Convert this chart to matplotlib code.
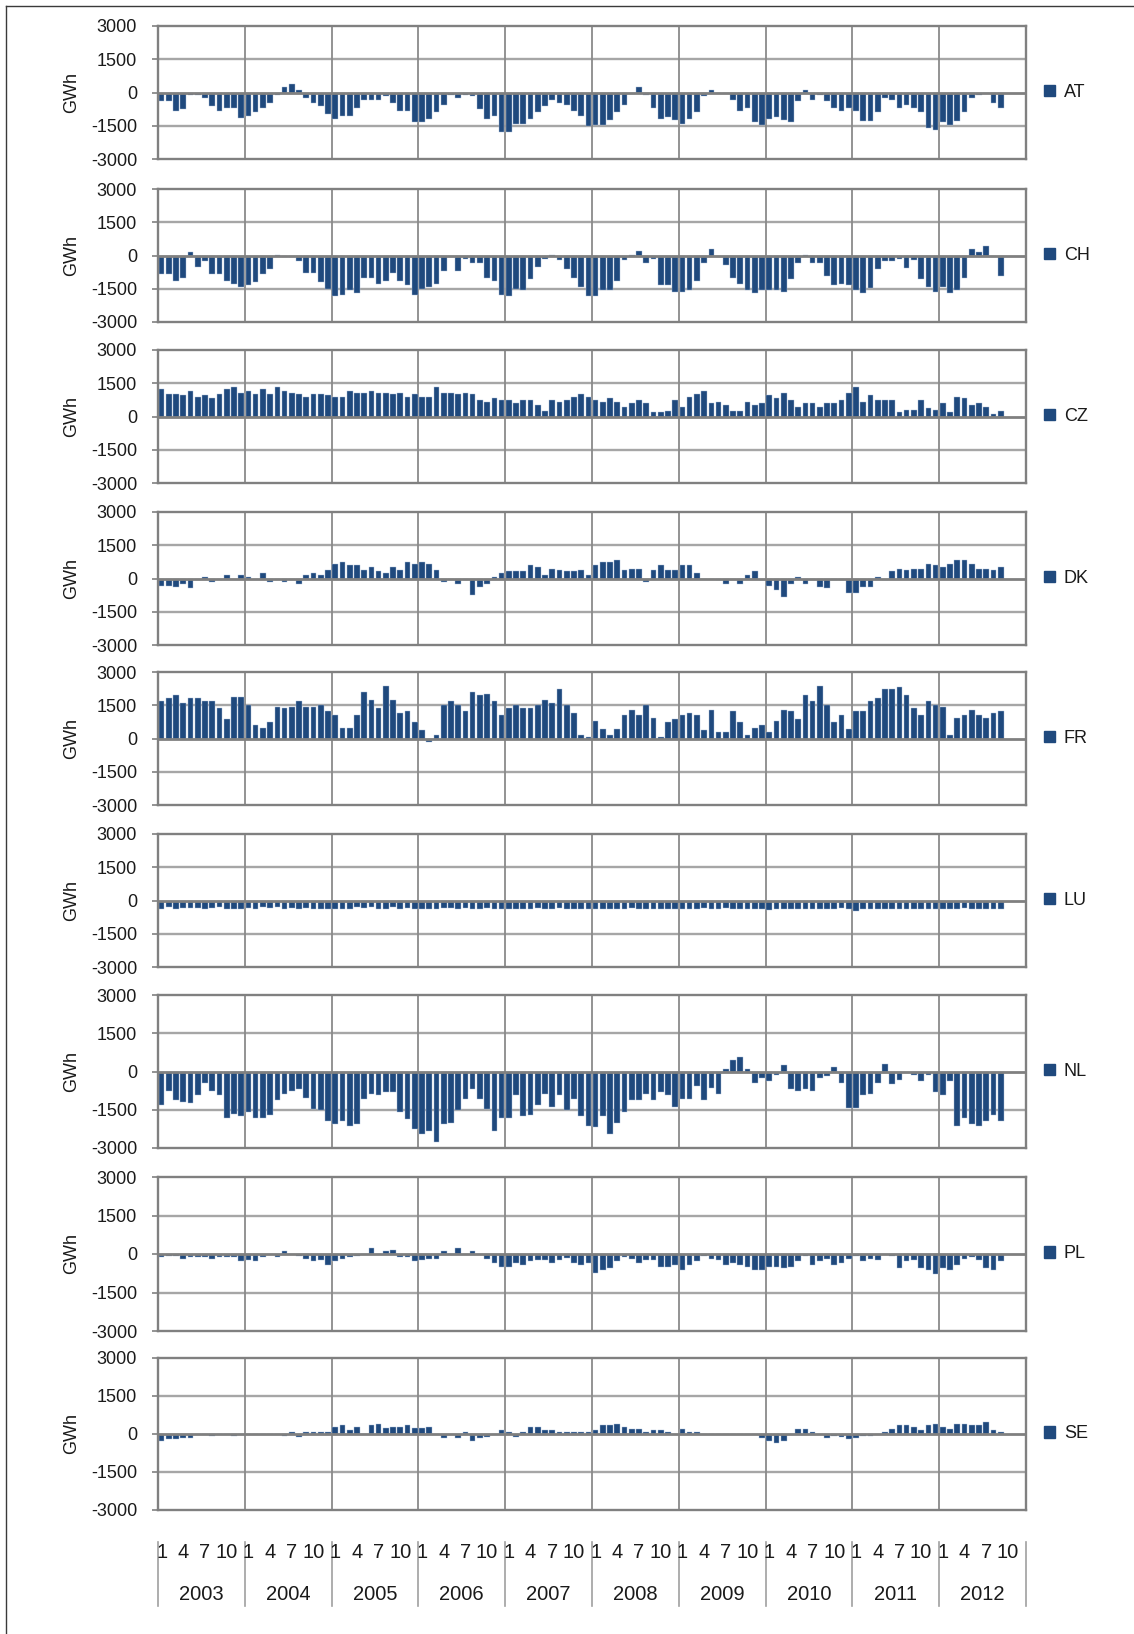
import numpy as np
import matplotlib
matplotlib.use("Agg")
import matplotlib.pyplot as plt
from matplotlib import transforms, font_manager
from matplotlib.patches import Patch
from matplotlib.lines import Line2D

plt.rcParams['axes.unicode_minus'] = False

# ---------------- data (GWh, monthly, Jan 2003 .. Sep 2012) ----------------
years = [2003, 2004, 2005, 2006, 2007, 2008, 2009, 2010, 2011, 2012]
month_ticks = [1, 4, 7, 10]
y_ticks = [-3000, -1500, 0, 1500, 3000]

AT = [-390, -390, -830, -740, -100, -100, -260, -620, -830, -680, -680, -1140,
      -1050, -890, -680, -480, -100, 240, 380, 100, -260, -480, -620, -980,
      -1200, -1050, -1050, -680, -350, -350, -350, -180, -480, -830, -830, -1320,
      -1320, -1180, -890, -550, -100, -260, -100, -180, -740, -1180, -1050, -1770,
      -1770, -1410, -1410, -1180, -890, -620, -350, -480, -550, -830, -1050, -1530,
      -1470, -1470, -1260, -890, -550, -80, 240, -100, -680, -1180, -1100, -1260,
      -1410, -1180, -890, -180, 100, 0, 0, -350, -830, -680, -1320, -1470,
      -1180, -1120, -1260, -1320, -390, 100, -350, -100, -390, -680, -830, -680,
      -830, -1270, -1270, -890, -260, -350, -680, -550, -680, -890, -1620, -1680,
      -1330, -1470, -1270, -890, -260, -100, 0, -480, -680]

CH = [-850, -850, -1150, -1000, 150, -500, -270, -850, -850, -1150, -1290, -1410,
      -1350, -1200, -850, -620, 30, -60, -60, -270, -770, -770, -1200, -1500,
      -1830, -1790, -1560, -1700, -1000, -1000, -1290, -1150, -770, -1150, -1350, -1790,
      -1500, -1410, -1290, -710, -60, -710, -140, -360, -360, -1000, -1150, -1790,
      -1830, -1500, -1560, -1060, -500, -140, 30, -210, -620, -1000, -1410, -1830,
      -1830, -1560, -1560, -1150, -210, 30, 210, -360, -140, -1350, -1350, -1650,
      -1650, -1560, -1150, -360, 290, -60, -420, -1000, -1290, -1560, -1700, -1560,
      -1560, -1560, -1650, -1040, -360, 30, -360, -360, -910, -1350, -1290, -1350,
      -1560, -1700, -1470, -620, -270, -270, -140, -560, -210, -1060, -1410, -1650,
      -1410, -1700, -1560, -1000, 290, 150, 420, -60, -910]

CZ = [1230, 1015, 1015, 970, 1170, 890, 970, 830, 1015, 1230, 1320, 1075,
      1170, 1015, 1230, 1015, 1320, 1170, 1075, 1015, 890, 1015, 1015, 970,
      890, 890, 1170, 1075, 1075, 1170, 1075, 1075, 1015, 1075, 890, 1015,
      890, 890, 1320, 1075, 1075, 1015, 1075, 1015, 740, 670, 830, 740,
      740, 590, 740, 740, 530, 240, 740, 670, 740, 890, 1015, 890,
      740, 670, 830, 670, 450, 590, 740, 590, 200, 200, 240, 740,
      450, 890, 1015, 1170, 590, 670, 530, 240, 240, 670, 530, 590,
      970, 830, 1075, 740, 450, 590, 590, 450, 590, 590, 740, 1075,
      1320, 670, 970, 740, 740, 740, 200, 300, 300, 740, 380, 300,
      590, 200, 890, 830, 530, 590, 450, 100, 240]

DK = [-320, -320, -390, -240, -450, -80, 90, -180, -80, 180, 0, 180,
      90, 0, 240, -180, -80, -180, -80, -240, 180, 240, 180, 390,
      670, 740, 590, 590, 390, 530, 330, 240, 530, 390, 740, 670,
      740, 670, 390, -180, -80, -240, -80, -730, -390, -240, 90, 240,
      330, 330, 330, 590, 530, 180, 440, 390, 330, 330, 390, 180,
      590, 740, 740, 820, 390, 440, 440, -180, 390, 590, 390, 390,
      590, 590, 240, 0, 0, -80, -240, -80, -240, 180, 330, -80,
      -360, -510, -820, -240, 90, -240, -80, -390, -450, -80, -80, -670,
      -670, -390, -390, 90, -80, 330, 440, 390, 440, 440, 670, 590,
      530, 670, 820, 820, 670, 440, 440, 390, 530]

FR = [1690, 1820, 1980, 1590, 1820, 1820, 1690, 1690, 1380, 880, 1890, 1890,
      1530, 630, 490, 730, 1440, 1380, 1440, 1690, 1440, 1440, 1530, 1220,
      1040, 490, 490, 1080, 2090, 1730, 1380, 2380, 1730, 1170, 1220, 730,
      370, -140, 140, 1530, 1690, 1530, 1220, 2090, 1980, 2030, 1690, 1040,
      1380, 1530, 1380, 1380, 1530, 1730, 1590, 2240, 1530, 1170, 140, 80,
      790, 430, 140, 430, 1040, 1280, 1080, 1530, 930, 80, 730, 880,
      1040, 1170, 1080, 370, 1280, 280, 280, 1220, 730, 140, 490, 630,
      280, 790, 1280, 1220, 880, 1980, 1690, 2380, 1530, 730, 1040, 430,
      1220, 1220, 1690, 1820, 2240, 2240, 2330, 1980, 1380, 1080, 1690, 1530,
      1440, 140, 930, 1040, 1280, 1080, 930, 1170, 1220]

LU = [-380, -300, -390, -330, -330, -330, -370, -330, -300, -390, -390, -370,
      -330, -370, -300, -330, -300, -370, -330, -370, -330, -370, -370, -390,
      -370, -370, -370, -300, -330, -300, -370, -370, -300, -370, -330, -370,
      -370, -370, -370, -330, -330, -370, -330, -370, -370, -330, -390, -370,
      -370, -370, -370, -370, -330, -370, -370, -330, -370, -370, -370, -370,
      -370, -370, -370, -370, -370, -330, -370, -370, -370, -370, -370, -370,
      -370, -370, -370, -330, -370, -370, -330, -370, -370, -370, -370, -370,
      -450, -370, -370, -370, -370, -370, -370, -370, -370, -370, -330, -370,
      -470, -370, -370, -370, -370, -370, -370, -370, -370, -370, -370, -370,
      -370, -370, -370, -330, -370, -370, -370, -370, -370]

NL = [-1310, -760, -1130, -1210, -1250, -940, -440, -760, -940, -1820, -1650, -1760,
      -1580, -1820, -1820, -1700, -1130, -900, -760, -690, -1020, -1460, -1500, -1940,
      -2070, -1940, -2140, -2070, -1080, -900, -940, -820, -820, -1580, -1880, -2260,
      -2440, -2320, -2750, -2070, -2000, -1500, -1080, -690, -1080, -1460, -2320, -1820,
      -1820, -940, -1760, -1700, -1310, -900, -1380, -940, -1500, -1080, -1760, -2140,
      -2190, -1760, -2440, -2000, -1580, -1130, -1130, -900, -1130, -820, -940, -1380,
      -1080, -1080, -570, -1130, -640, -900, 110, 460, 580, 110, -440, -250,
      -380, -130, 240, -690, -760, -690, -760, -250, -190, 160, -440, -1450,
      -1450, -940, -900, -440, 290, -500, -320, -70, -130, -380, -130, -820,
      -940, -380, -2140, -1820, -2070, -2140, -1940, -1700, -1940]

PL = [-120, -70, -70, -180, -130, -130, -130, -180, -130, -130, -130, -290,
      -240, -290, -110, 0, -120, 100, 0, -70, -180, -290, -240, -420,
      -290, -180, -110, -70, 0, 240, 0, 100, 160, -120, -120, -290,
      -240, -180, -180, 100, 0, 240, 0, 100, 0, -180, -370, -500,
      -500, -370, -420, -290, -240, -240, -370, -240, -160, -370, -420, -370,
      -740, -610, -550, -290, -110, -180, -370, -240, -240, -500, -500, -420,
      -610, -420, -290, -70, -180, -240, -420, -370, -420, -500, -630, -630,
      -500, -500, -530, -500, -290, -70, -420, -290, -180, -420, -370, -180,
      -70, -290, -180, -240, 0, -70, -550, -290, -240, -550, -630, -760,
      -550, -630, -420, -180, -110, -240, -550, -630, -290]

SE = [-270, -180, -180, -140, -140, 0, 0, -80, 0, 0, -80, 0,
      0, 0, 0, 0, 0, -80, 90, -100, 90, 90, 90, 90,
      260, 340, 140, 260, 0, 340, 390, 230, 260, 260, 340, 230,
      230, 260, 0, -140, 0, -140, 90, -260, -140, -100, 0, 140,
      90, -100, 90, 260, 260, 140, 140, 90, 90, 90, 90, 90,
      140, 340, 340, 390, 260, 210, 210, 90, 140, 140, 90, 0,
      210, 90, 90, 0, 0, 0, 0, 0, 0, 0, 0, -140,
      -270, -340, -270, 0, 210, 210, 90, 0, -140, -80, -100, -180,
      -140, -80, -80, 0, 90, 210, 340, 340, 260, 140, 340, 390,
      260, 210, 390, 390, 340, 340, 470, 140, 90]

countries = ['AT', 'CH', 'CZ', 'DK', 'FR', 'LU', 'NL', 'PL', 'SE']
series = [AT, CH, CZ, DK, FR, LU, NL, PL, SE]

# ---------------- layout (pixel geometry of the reference) ----------------
W, H = 1134, 1634
fig = plt.figure(figsize=(W / 100, H / 100), dpi=100)
fig.patch.set_facecolor('white')

names = {f.name for f in font_manager.fontManager.ttflist}
narrow = 'Liberation Sans Narrow' if 'Liberation Sans Narrow' in names else 'Liberation Sans'
base = 'Liberation Sans'

x_left, x_right = 158, 1026
panels_px = [(26, 159), (189, 322), (350, 483), (512, 645), (672, 805),
             (834, 967), (995, 1148), (1177, 1331), (1358, 1510)]

bar_color = '#1f497d'
n_months = len(years) * 12

axes = []
for name, vals, (top, bot) in zip(countries, series, panels_px):
    ax = fig.add_axes([x_left / W, 1 - bot / H, (x_right - x_left) / W, (bot - top) / H])
    axes.append(ax)
    xs = np.arange(len(vals)) + 0.5
    ax.bar(xs, vals, width=0.78, color=bar_color, edgecolor='#a9bcd8',
           linewidth=0.3, zorder=2)
    ax.set_xlim(0, n_months)
    ax.set_ylim(-3000, 3000)
    for yv in (-1500, 1500):
        ax.axhline(yv, color='#a6a6a6', lw=1.7, zorder=1)
    ax.axhline(0, color='#808080', lw=2.0, zorder=3)
    for k in range(1, len(years)):
        ax.axvline(12 * k, color='#8a8a8a', lw=1.3, zorder=1)
    for sp in ax.spines.values():
        sp.set_color('#808080')
        sp.set_linewidth(1.7)
    ax.set_xticks([])
    ax.set_yticks(y_ticks)
    ax.set_yticklabels([str(v) for v in y_ticks], fontsize=13, family=base,
                       color='#1a1a1a')
    ax.tick_params(axis='y', length=4, width=1.2, color='#808080', pad=11)
    fig.text(72 / W, 1 - ((top + bot) / 2) / H, 'GWh', rotation=90,
             ha='center', va='center', fontsize=13, family=base, color='#1a1a1a')
    leg = ax.legend(handles=[Patch(facecolor=bar_color, edgecolor=bar_color)],
                    labels=[name], loc='center left',
                    bbox_to_anchor=((1044 - x_left) / (x_right - x_left), 0.5),
                    frameon=False, handlelength=0.6, handleheight=0.6,
                    handletextpad=0.5, borderpad=0, borderaxespad=0,
                    prop={'family': base, 'size': 13})
    for t in leg.get_texts():
        t.set_color('#1a1a1a')

# ---------------- category axis at the bottom ----------------
ax = axes[-1]
trans = transforms.blended_transform_factory(ax.transData, fig.transFigure)
y_month = 1 - 1553 / H
y_year = 1 - 1594 / H
for k in range(len(years) + 1):
    ax.add_line(Line2D([12 * k, 12 * k], [1 - 1542 / H, 1 - 1606 / H],
                       transform=trans, color='#a0a0a0', lw=1.2, clip_on=False))
for k, yr in enumerate(years):
    for m in month_ticks:
        ax.text(12 * k + m - 0.5, y_month, str(m), transform=trans, ha='center',
                va='center', fontsize=14.5, family=narrow, color='#1a1a1a')
    ax.text(12 * k + 6, y_year, str(yr), transform=trans, ha='center',
            va='center', fontsize=14.5, family=narrow, color='#1a1a1a')

# outer frame (top and left edges visible)
fig.add_artist(Line2D([6 / W, 1.0], [1 - 6 / H, 1 - 6 / H], transform=fig.transFigure,
                      color='#3a3a3a', lw=1.0))
fig.add_artist(Line2D([6 / W, 6 / W], [0.0, 1 - 6 / H], transform=fig.transFigure,
                      color='#3a3a3a', lw=1.0))

fig.savefig('out.png', dpi=100)
